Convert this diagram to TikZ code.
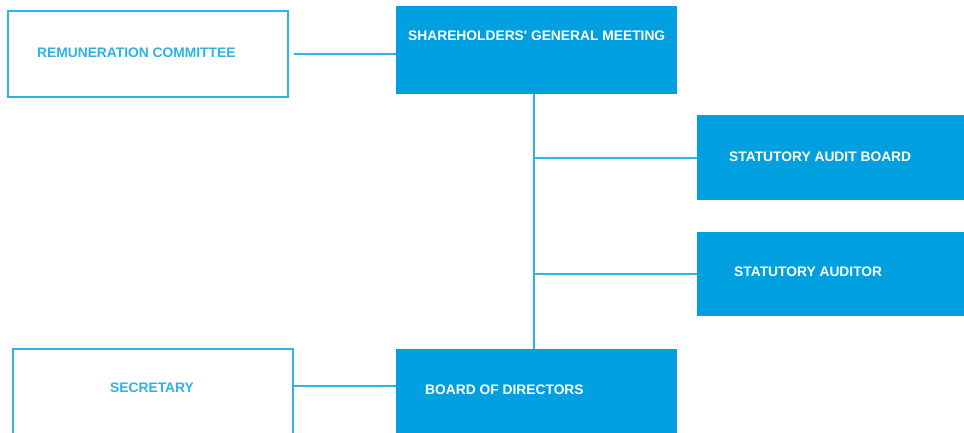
\documentclass[tikz,border=0pt]{standalone}
\usepackage{fontspec}
\setmainfont{Liberation Sans}
\usetikzlibrary{positioning}

\definecolor{unitblue}{HTML}{009FDF}
\definecolor{lineblue}{HTML}{2CB3E8}

\tikzset{
  unit/.style={anchor=north west, minimum width=281pt, inner sep=0pt},
  plain/.style={unit, draw=lineblue, line width=1.5pt, fill=white},
  solid/.style={unit, fill=unitblue},
  txt/.style={font=\bfseries\fontsize{13.8}{15}\selectfont, inner sep=0pt},
  link/.style={draw=lineblue, line width=1.5pt}
}

\begin{document}
\begin{tikzpicture}[x=1pt, y=-1pt]
    \useasboundingbox[clip] (0,0) rectangle (964,432);

    % Boxes
    \node[plain, minimum width=280pt, minimum height=86pt] (rem) at (7,10) {};
    \node[solid, minimum height=88pt] (sgm) at (396,6) {};
    \node[solid, minimum height=85pt] (sab) at (697,115) {};
    \node[solid, minimum height=84pt] (sa) at (697,232) {};
    \node[plain, minimum width=280pt, minimum height=110pt] (sec) at (12,348) {};
    \node[solid, minimum height=110pt] (bod) at (396,349) {};

    % Texts
    \node[txt, text=lineblue, anchor=west] (rem-t) at ([xshift=30pt, yshift=1pt]rem.west) {REMUNERATION COMMITTEE};
    \node[txt, text=white] (sgm-t) at ([yshift=-30pt]sgm.north) {SHAREHOLDERS\textquotesingle{} GENERAL MEETING};
    \node[txt, text=white, anchor=west] (sab-t) at ([xshift=32pt, yshift=-42pt]sab.north west) {STATUTORY AUDIT BOARD};
    \node[txt, text=white, anchor=west] (sa-t) at ([xshift=37pt, yshift=-40pt]sa.north west) {STATUTORY AUDITOR};
    \node[txt, text=lineblue] (sec-t) at ([xshift=140pt, yshift=-40pt]sec.north west) {SECRETARY};
    \node[txt, text=white, anchor=west] (bod-t) at ([xshift=29pt, yshift=-41pt]bod.north west) {BOARD OF DIRECTORS};

    % Connectors
    \coordinate (spine1) at (534,158);
    \coordinate (spine2) at (534,274);
    \coordinate (secrow) at (0,386);
    \draw[link] ([xshift=5pt]rem.east) -- (rem.east -| sgm.west);
    \draw[link] (sgm.south -| spine1) -- (bod.north -| spine1);
    \draw[link] (spine1) -- (spine1 -| sab.west);
    \draw[link] (spine2) -- (spine2 -| sa.west);
    \draw[link] (sec.east |- secrow) -- (bod.west |- secrow);
\end{tikzpicture}
\end{document}
